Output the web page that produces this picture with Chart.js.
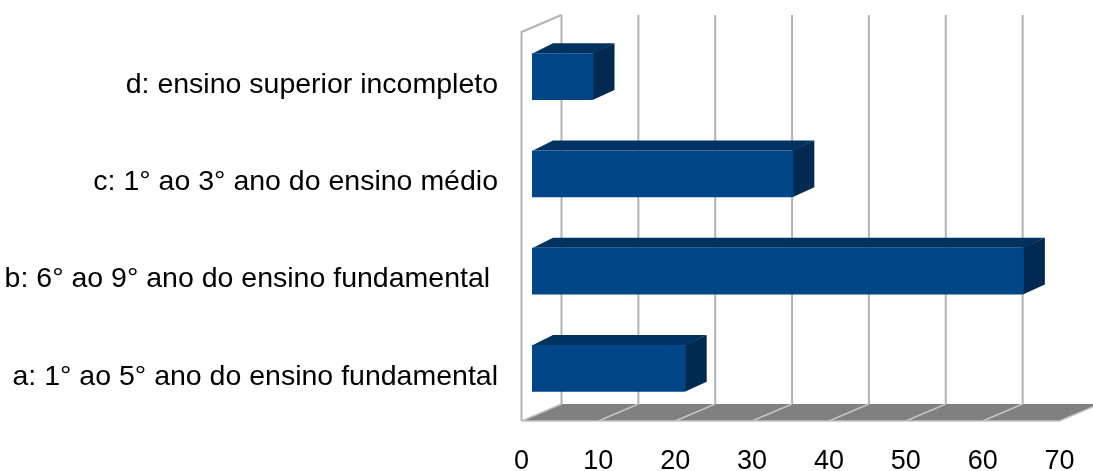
<!DOCTYPE html>
<html>
  <head>
    <title>Escolaridade</title>
    <script src="https://cdn.jsdelivr.net/npm/chart.js"></script>
    <style>
      html, body { margin: 0; padding: 0; background: #fff; }
      #wrap { width: 1093px; height: 471px; }
    </style>
  </head>
  <body>
    <div id="wrap"><canvas id="escolaridadeChart"></canvas></div>

    <script>
      // categories, bottom to top
      var categories = [
        'a: 1° ao 5° ano do ensino fundamental',
        'b: 6° ao 9° ano do ensino fundamental ',
        'c: 1° ao 3° ano do ensino médio',
        'd: ensino superior incompleto'
      ];
      var values = [20, 64, 34, 8];
      var xTicks = [0, 10, 20, 30, 40, 50, 60, 70];

      // 3D offsets (pixels) relative to the bar front plane
      var FRONT = { dx: -10.5, dy: 4 };
      var DEPTH = { dx: 40, dy: -17 };
      var BAR_DEPTH = { dx: 21, dy: -10 };

      function noPadding(scale) {
        scale.paddingTop = 0;
        scale.paddingBottom = 0;
        scale.paddingLeft = 0;
        scale.paddingRight = 0;
      }

      var wallsPlugin = {
        id: 'walls3d',
        beforeDatasetsDraw: function (chart) {
          var ctx = chart.ctx;
          var area = chart.chartArea;
          var xs = chart.scales.x;
          var fx = function (v) { return xs.getPixelForValue(v) + FRONT.dx; };
          var fyTop = area.top + FRONT.dy;
          var fyBot = area.bottom + FRONT.dy;
          var lastV = xTicks[xTicks.length - 1];

          ctx.save();
          // floor
          ctx.beginPath();
          ctx.moveTo(fx(0), fyBot);
          ctx.lineTo(fx(lastV), fyBot);
          ctx.lineTo(fx(lastV) + DEPTH.dx, fyBot + DEPTH.dy);
          ctx.lineTo(fx(0) + DEPTH.dx, fyBot + DEPTH.dy);
          ctx.closePath();
          ctx.fillStyle = '#808080';
          ctx.fill();

          ctx.strokeStyle = '#c4c4c4';
          ctx.lineWidth = 1.5;
          xTicks.forEach(function (v) {
            ctx.beginPath();
            ctx.moveTo(fx(v), fyBot);
            ctx.lineTo(fx(v) + DEPTH.dx, fyBot + DEPTH.dy);
            ctx.stroke();
          });
          ctx.beginPath();
          ctx.moveTo(fx(0), fyBot);
          ctx.lineTo(fx(lastV), fyBot);
          ctx.stroke();

          // back wall grid lines
          ctx.strokeStyle = '#b3b3b3';
          ctx.lineWidth = 2;
          xTicks.forEach(function (v) {
            var bx = fx(v) + DEPTH.dx;
            ctx.beginPath();
            ctx.moveTo(bx, fyTop + DEPTH.dy);
            ctx.lineTo(bx, fyBot + DEPTH.dy);
            ctx.stroke();
          });

          // left wall
          ctx.beginPath();
          ctx.moveTo(fx(0), fyBot);
          ctx.lineTo(fx(0), fyTop);
          ctx.lineTo(fx(0) + DEPTH.dx, fyTop + DEPTH.dy);
          ctx.stroke();

          // bar top and side faces
          var meta = chart.getDatasetMeta(0);
          meta.data.forEach(function (bar) {
            var x0 = bar.base, x1 = bar.x;
            var y0 = bar.y - bar.height / 2, y1 = bar.y + bar.height / 2;
            ctx.fillStyle = '#00325f';
            ctx.beginPath();
            ctx.moveTo(x0 + 1, y0);
            ctx.lineTo(x0 + BAR_DEPTH.dx, y0 + BAR_DEPTH.dy);
            ctx.lineTo(x1 + BAR_DEPTH.dx, y0 + BAR_DEPTH.dy);
            ctx.lineTo(x1, y0);
            ctx.closePath();
            ctx.fill();
            ctx.fillStyle = '#002a52';
            ctx.beginPath();
            ctx.moveTo(x1 - 1, y0);
            ctx.lineTo(x1 + BAR_DEPTH.dx, y0 + BAR_DEPTH.dy);
            ctx.lineTo(x1 + BAR_DEPTH.dx, y1 + BAR_DEPTH.dy);
            ctx.lineTo(x1 - 1, y1);
            ctx.closePath();
            ctx.fill();
          });
          ctx.restore();
        }
      };

      var ctx = document.getElementById('escolaridadeChart').getContext('2d');
      var escolaridadeChart = new Chart(ctx, {
        type: 'bar',
        data: {
          labels: categories,
          datasets: [
            {
              data: values,
              backgroundColor: '#004586',
              borderWidth: 0,
              borderRadius: 2,
              barPercentage: 0.48,
              categoryPercentage: 1
            }
          ]
        },
        options: {
          indexAxis: 'y',
          responsive: true,
          maintainAspectRatio: false,
          animation: false,
          layout: { padding: { top: 28, right: 23, left: 0, bottom: 0 } },
          plugins: {
            legend: { display: false },
            tooltip: { enabled: false }
          },
          scales: {
            x: {
              min: 0,
              max: 70,
              afterBuildTicks: function (scale) {
                scale.ticks = xTicks.map(function (v) { return { value: v }; });
              },
              afterFit: function (scale) {
                scale.height = 54;
                noPadding(scale);
              },
              grid: { display: false, drawTicks: false },
              border: { display: false },
              ticks: {
                padding: 28,
                labelOffset: FRONT.dx,
                color: '#000',
                font: { family: '"Liberation Sans", Arial, sans-serif', size: 27 }
              }
            },
            y: {
              reverse: true,
              afterFit: function (scale) {
                scale.width = 532;
                noPadding(scale);
              },
              grid: { display: false, drawTicks: false },
              border: { display: false },
              ticks: {
                padding: 34,
                labelOffset: 8.5,
                color: '#000',
                font: { family: '"Liberation Sans", Arial, sans-serif', size: 28.5 }
              }
            }
          }
        },
        plugins: [wallsPlugin]
      });
    </script>
  </body>
</html>
